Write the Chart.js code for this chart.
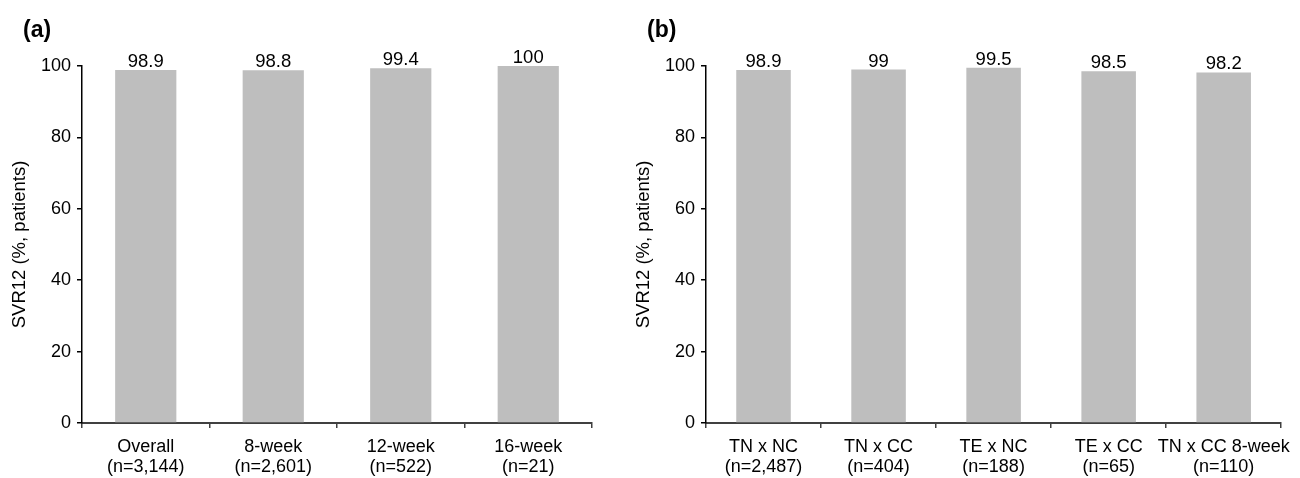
<!DOCTYPE html>
<html>
<head>
<meta charset="utf-8">
<script src="https://cdn.jsdelivr.net/npm/chart.js@4/dist/chart.umd.min.js"></script>
<style>
    body { margin: 0; background: #fff; }
    #wrap { position: relative; width: 1300px; height: 478px; }
    #chartA { position: absolute; left: 0; top: 0; }
    #chartB { position: absolute; left: 624px; top: 0; }
</style>
</head>
<body>
<div id="wrap">
    <canvas id="chartA" width="620" height="478"></canvas>
    <canvas id="chartB" width="676" height="478"></canvas>
</div>
<script>
// panel (a)
const labelsA = [['Overall', '(n=3,144)'], ['8-week', '(n=2,601)'], ['12-week', '(n=522)'], ['16-week', '(n=21)']];
const valuesA = [98.9, 98.8, 99.4, 100];

// panel (b)
const labelsB = [['TN x NC', '(n=2,487)'], ['TN x CC', '(n=404)'], ['TE x NC', '(n=188)'], ['TE x CC', '(n=65)'], ['TN x CC 8-week', '(n=110)']];
const valuesB = [98.9, 99, 99.5, 98.5, 98.2];

const yTicks = [0, 20, 40, 60, 80, 100];
const yTitle = 'SVR12 (%, patients)';

const FONT = "'Liberation Sans', Arial, sans-serif";

// draws the value above each bar and the panel letter
const barValues = {
    id: 'barValues',
    afterDatasetsDraw(chart) {
        const ctx = chart.ctx;
        ctx.save();
        ctx.fillStyle = '#000';
        ctx.font = '18.5px ' + FONT;
        ctx.textAlign = 'center';
        ctx.textBaseline = 'alphabetic';
        chart.getDatasetMeta(0).data.forEach((bar, i) => {
            ctx.fillText(String(chart.data.datasets[0].data[i]), bar.x, bar.y - 3);
        });
        ctx.font = 'bold 23px ' + FONT;
        ctx.textAlign = 'left';
        ctx.textBaseline = 'middle';
        ctx.fillText(chart.options.plugins.panelLetter, 23, 31);
        ctx.restore();
    }
};

function makeChart(id, labels, values, letter, rightPad, barPct) {
    let ctx = document.getElementById(id).getContext('2d');
    return new Chart(ctx, {
        type: 'bar',
        data: {
            labels: labels,
            datasets: [{
                data: values,
                backgroundColor: 'rgb(190,190,190)',
                borderWidth: 0,
                categoryPercentage: 1,
                barPercentage: barPct
            }]
        },
        options: {
            responsive: false,
            animation: false,
            layout: { padding: { left: 0, right: rightPad, top: 66, bottom: 0 } },
            plugins: {
                legend: { display: false },
                tooltip: { enabled: false },
                panelLetter: letter
            },
            scales: {
                x: {
                    afterFit: s => { s.height = 55; },
                    border: { color: '#404040', width: 2 },
                    grid: { display: true, drawOnChartArea: false, drawTicks: true, tickLength: 5, color: '#404040', lineWidth: 1.5, offset: true },
                    ticks: {
                        color: '#000',
                        font: { family: FONT, size: 18, lineHeight: 1.11 },
                        padding: 9,
                        maxRotation: 0,
                        autoSkip: false
                    }
                },
                y: {
                    min: 0,
                    max: 100,
                    afterFit: s => { s.width = 82; },
                    afterBuildTicks: s => { s.ticks = yTicks.map(v => ({ value: v })); },
                    border: { color: '#000', width: 1.5 },
                    grid: { display: true, drawOnChartArea: false, drawTicks: true, tickLength: 5, color: '#000', lineWidth: 1.5 },
                    ticks: {
                        color: '#000',
                        font: { family: FONT, size: 18 },
                        padding: 6
                    },
                    title: {
                        display: true,
                        text: yTitle,
                        color: '#000',
                        font: { family: FONT, size: 18.5 },
                        padding: { top: 9, bottom: 0 }
                    }
                }
            }
        },
        plugins: [barValues]
    });
}

makeChart('chartA', labelsA, valuesA, '(a)', 28, 0.48);
makeChart('chartB', labelsB, valuesB, '(b)', 13, 0.474);
</script>
</body>
</html>
